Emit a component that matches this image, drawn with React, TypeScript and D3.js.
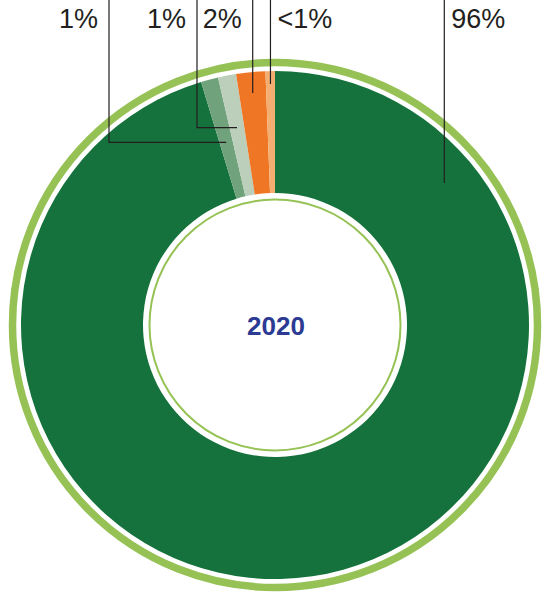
import React, { useEffect, useRef } from 'react';
import * as d3 from 'd3';

// slice order runs clockwise from 12 o'clock
const segments = ['Share A', 'Share B', 'Share C', 'Share D', 'Share E'];
const values = [95.3, 1.1, 1.15, 1.85, 0.6];
const labels = ['96%', '1%', '1%', '2%', '<1%'];
const colors = ['#15723c', '#70a27b', '#bbcfbb', '#ee7624', '#f5ae72'];
const yearLabel = '2020';

const App: React.FC = () => {
  const svgRef = useRef<SVGSVGElement>(null);

  useEffect(() => {
    if (!svgRef.current) return;
    d3.select(svgRef.current).selectAll('*').remove();

    const width = 542;
    const height = 594;
    const cx = 275;
    const cy = 325;
    const outerR = 254;
    const innerR = 132;
    const font = '"Liberation Sans", Arial, Helvetica, sans-serif';
    const ink = '#231f20';
    const ringColor = '#96c255';

    const svg = d3.select(svgRef.current).attr('width', width).attr('height', height);
    const g = svg.append('g').attr('transform', `translate(${cx},${cy})`);

    const pie = d3
      .pie<number>()
      .sort(null)
      .value((d) => d);
    const arcs = pie(values);

    const arc = d3.arc<d3.PieArcDatum<number>>().innerRadius(innerR).outerRadius(outerR);

    // outer ring
    g.append('circle')
      .attr('r', 262.5)
      .attr('fill', 'none')
      .attr('stroke', ringColor)
      .attr('stroke-width', 7.5);

    g.selectAll('path.slice')
      .data(arcs)
      .enter()
      .append('path')
      .attr('class', 'slice')
      .attr('d', arc)
      .attr('fill', (_, i) => colors[i]);

    // thin ring inside the hole
    g.append('circle')
      .attr('r', 125.5)
      .attr('fill', 'none')
      .attr('stroke', ringColor)
      .attr('stroke-width', 2);

    g.append('text')
      .attr('x', 1)
      .attr('y', 1)
      .attr('text-anchor', 'middle')
      .attr('dominant-baseline', 'central')
      .attr('font-family', font)
      .attr('font-weight', 'bold')
      .attr('font-size', 26)
      .attr('fill', '#2b3a92')
      .text(yearLabel);

    // leader lines: anchor radius per slice, plus a column x for elbowed ones
    const anchorR = [221, 189, 201, 233, 241];
    const columnX: (number | null)[] = [null, 109, 197, null, null];
    const textSide = ['right', 'left', 'left', 'left', 'right'];

    arcs.forEach((a, i) => {
      // big slice gets its line on the upper right, not at its middle
      const angle = i === 0 ? (50 * Math.PI) / 180 : (a.startAngle + a.endAngle) / 2;
      const ax = cx + anchorR[i] * Math.sin(angle);
      const ay = cy - anchorR[i] * Math.cos(angle);
      const lx = columnX[i] ?? ax;

      const pts: [number, number][] = [[lx, 0], [lx, ay]];
      if (columnX[i] !== null) pts.push([ax, ay]);

      svg
        .append('path')
        .attr('d', d3.line()(pts))
        .attr('fill', 'none')
        .attr('stroke', ink)
        .attr('stroke-width', 1.2);

      svg
        .append('text')
        .attr('x', textSide[i] === 'left' ? lx - 11 : lx + 7)
        .attr('y', 28)
        .attr('text-anchor', textSide[i] === 'left' ? 'end' : 'start')
        .attr('font-family', font)
        .attr('font-size', 27)
        .attr('fill', ink)
        .attr('data-segment', segments[i])
        .text(labels[i]);
    });
  }, []);

  return (
    <svg ref={svgRef} style={{ position: 'absolute', left: 0, top: 0 }}></svg>
  );
};

export default App;
